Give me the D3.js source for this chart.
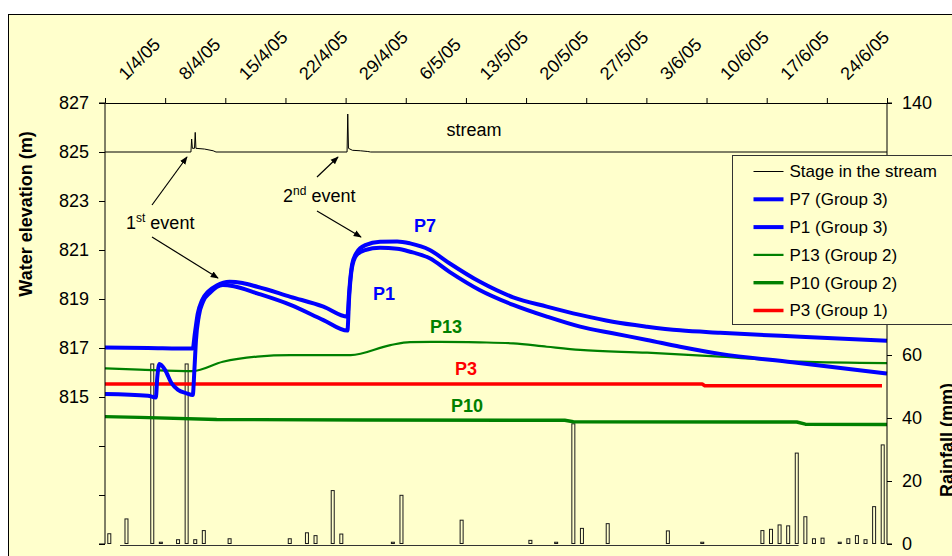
<!DOCTYPE html>
<html><head><meta charset="utf-8">
<script src="https://cdn.jsdelivr.net/npm/d3@7"></script>
<style>
html,body{margin:0;padding:0;background:#fff;}
svg{display:block;font-family:Arial,"Liberation Sans",sans-serif;}
</style></head>
<body>
<svg id="chart" width="952" height="556"></svg>
<script>
// ---------- DATA ----------
const weekTicks = ["2005-04-01","2005-04-08","2005-04-15","2005-04-22","2005-04-29","2005-05-06","2005-05-13","2005-05-20","2005-05-27","2005-06-03","2005-06-10","2005-06-17","2005-06-24"];
const weekLabels = ["1/4/05","8/4/05","15/4/05","22/4/05","29/4/05","6/5/05","13/5/05","20/5/05","27/5/05","3/6/05","10/6/05","17/6/05","24/6/05"];
const elevTicks = [809,811,813,815,817,819,821,823,825,827];
const elevLabels = ["","","","815","817","819","821","823","825","827"];
const rainTicks = [0,20,40,60,80,100,120,140];
// labels 80-120 sit behind the legend box in the original, so they are not shown
const rainLabels = ["0","20","40","60","","","","140"];

const streamTimes = ["2005-04-01 00:00","2005-04-11 00:00","2005-04-11 02:00","2005-04-11 04:00","2005-04-11 10:00","2005-04-11 12:00","2005-04-11 14:00","2005-04-12 14:00","2005-04-13 14:00","2005-04-13 22:00","2005-04-29 04:00","2005-04-29 06:00","2005-04-29 08:00","2005-04-29 19:00","2005-04-30 17:00","2005-05-01 14:00","2005-05-01 22:00","2005-07-01 00:00"];
const streamValues = [825.0,825.0,825.53,825.15,825.15,825.8,825.15,825.12,825.05,825.0,825.0,826.55,825.15,825.07,825.05,825.02,825.0,825.0];

const p7Times = ["2005-04-01 00:00","2005-04-06 00:00","2005-04-11 05:00","2005-04-11 11:00","2005-04-11 19:00","2005-04-12 07:00","2005-04-13 00:00","2005-04-14 00:00","2005-04-15 12:00","2005-04-17 00:00","2005-04-18 17:00","2005-04-22 14:00","2005-04-26 10:00","2005-04-29 05:00","2005-04-29 10:00","2005-04-29 18:00","2005-04-30 07:00","2005-05-01 07:00","2005-05-03 00:00","2005-05-05 00:00","2005-05-06 12:00","2005-05-08 19:00","2005-05-11 02:00","2005-05-14 14:00","2005-05-18 12:00","2005-05-22 10:00","2005-05-26 07:00","2005-05-30 02:00","2005-06-03 02:00","2005-06-06 22:00","2005-06-11 14:00","2005-06-20 22:00","2005-07-01 00:00"];
const p7Values = [817.02,817.0,816.98,817.6,818.4,818.95,819.3,819.55,819.7,819.65,819.5,819.09,818.69,818.28,819.3,820.4,820.9,821.2,821.34,821.35,821.27,821.0,820.46,819.71,819.07,818.69,818.35,818.07,817.87,817.72,817.62,817.46,817.3];

const p1Times = ["2005-04-01 00:00","2005-04-06 00:00","2005-04-06 22:00","2005-04-07 02:00","2005-04-07 08:00","2005-04-08 00:00","2005-04-08 18:00","2005-04-09 12:00","2005-04-10 12:00","2005-04-11 05:00","2005-04-11 10:00","2005-04-11 14:00","2005-04-11 22:00","2005-04-12 10:00","2005-04-13 05:00","2005-04-14 17:00","2005-04-16 00:00","2005-04-18 17:00","2005-04-22 14:00","2005-04-26 10:00","2005-04-29 05:00","2005-04-29 10:00","2005-04-29 18:00","2005-04-30 07:00","2005-05-01 07:00","2005-05-03 00:00","2005-05-05 00:00","2005-05-06 12:00","2005-05-08 19:00","2005-05-11 02:00","2005-05-14 14:00","2005-05-18 12:00","2005-05-22 10:00","2005-05-26 07:00","2005-05-30 02:00","2005-06-03 02:00","2005-06-06 22:00","2005-06-11 14:00","2005-06-20 00:00","2005-07-01 00:00"];
const p1Values = [815.12,815.05,814.98,815.8,816.35,816.1,815.56,815.29,815.15,815.08,816.2,817.3,818.3,818.9,819.25,819.57,819.52,819.23,818.76,818.14,817.71,819.1,820.3,820.8,821.0,821.09,821.05,820.93,820.66,820.11,819.37,818.76,818.28,817.87,817.6,817.33,817.05,816.76,816.42,815.96];

const p13Times = ["2005-04-01 00:00","2005-04-05 00:00","2005-04-11 05:00","2005-04-14 17:00","2005-04-18 17:00","2005-04-22 14:00","2005-04-29 14:00","2005-05-04 05:00","2005-05-06 12:00","2005-05-10 00:00","2005-05-14 14:00","2005-05-18 12:00","2005-05-22 10:00","2005-05-26 07:00","2005-06-03 02:00","2005-06-11 14:00","2005-06-20 22:00","2005-07-01 00:00"];
const p13Values = [816.17,816.12,816.06,816.44,816.65,816.71,816.71,817.12,817.24,817.25,817.23,817.19,817.05,816.92,816.81,816.65,816.44,816.38];

const p10Times = ["2005-04-01 00:00","2005-04-05 00:00","2005-04-14 00:00","2005-05-01 00:00","2005-05-24 12:00","2005-05-25 12:00","2005-06-20 12:00","2005-06-21 12:00","2005-07-01 00:00"];
const p10Values = [814.2,814.17,814.08,814.06,814.05,813.99,813.98,813.89,813.88];

const p3Times = ["2005-04-01 00:00","2005-06-09 12:00","2005-06-09 19:00","2005-06-30 10:00"];
const p3Values = [815.53,815.53,815.46,815.46];

const rainDays = ["2005-04-01","2005-04-03","2005-04-06","2005-04-07","2005-04-09","2005-04-10","2005-04-11","2005-04-12","2005-04-15","2005-04-22","2005-04-24","2005-04-25","2005-04-27","2005-04-28","2005-05-04","2005-05-05","2005-05-12","2005-05-20","2005-05-23","2005-05-25","2005-05-26","2005-05-29","2005-06-05","2005-06-09","2005-06-16","2005-06-17","2005-06-18","2005-06-19","2005-06-20","2005-06-21","2005-06-22","2005-06-23","2005-06-25","2005-06-26","2005-06-27","2005-06-28","2005-06-29","2005-06-30"];
const rainMm = [3.1,7.8,57,0.4,1.2,57,1.2,4.1,1.5,1.5,3.4,2.5,16.8,3.0,0.4,15.3,7.4,1.0,0.4,38,4.8,6.3,4.0,0.4,4.1,4.5,5.9,5.6,28.7,8.5,1.5,1.7,0.4,1.5,2.5,1.2,11.7,31.3];
const rainAxisSpan = ["2005-04-02 18:00","2005-06-20 17:00"];

const seriesNames = ["Stage in the stream","P7 (Group 3)","P1 (Group 3)","P13 (Group 2)","P10 (Group 2)","P3 (Group 1)"];
const seriesColors = ["#000000","#0000FF","#0000FF","#008000","#008000","#FF0000"];
const seriesWidths = [1,4,4,2.2,3.4,3.5];

// ---------- SETUP ----------
const parseT = d3.timeParse("%Y-%m-%d %H:%M");
const parseD = d3.timeParse("%Y-%m-%d");
const svg = d3.select("#chart");
const BG = "#FFFFCC";
const FONT = 'Arial, "Liberation Sans", sans-serif';

const L = 105, R = 887, T = 103, B = 544;
const x = d3.scaleTime().domain([parseD("2005-04-01"), parseD("2005-07-01")]).range([L, R]);
const yL = d3.scaleLinear().domain([809, 827]).range([B, T]);
const yR = d3.scaleLinear().domain([0, 140]).range([B, T]);

// frame
svg.append("rect").attr("x", 8.5).attr("y", 14.5).attr("width", 960).attr("height", 560)
  .attr("fill", BG).attr("stroke", "#000").attr("stroke-width", 1);

// rainfall bars
const rainG = svg.append("g");
rainDays.forEach((d, i) => {
  const t0 = parseD(d);
  const t1 = d3.timeDay.offset(t0, 1);
  const cx = (x(t0) + x(t1)) / 2;
  const h = B - yR(rainMm[i]);
  rainG.append("rect")
    .attr("x", cx - 1.5).attr("y", yR(rainMm[i]) - 0.5)
    .attr("width", 3).attr("height", Math.max(h, 0.6))
    .attr("fill", BG).attr("stroke", "#1a1a1a").attr("stroke-width", 1);
});
svg.append("line")
  .attr("x1", x(parseT(rainAxisSpan[0]))).attr("x2", x(parseT(rainAxisSpan[1])))
  .attr("y1", B + 1.5).attr("y2", B + 1.5).attr("stroke", "#333").attr("stroke-width", 1);

// lines
function drawLine(times, values, color, width, curve) {
  const pts = times.map((t, i) => [parseT(t), values[i]]);
  svg.append("path").datum(pts)
    .attr("fill", "none").attr("stroke", color).attr("stroke-width", width)
    .attr("stroke-linejoin", "round")
    .attr("d", d3.line().x(d => x(d[0])).y(d => yL(d[1])).curve(curve));
}
drawLine(p10Times, p10Values, seriesColors[4], seriesWidths[4], d3.curveLinear);
drawLine(p3Times, p3Values, seriesColors[5], seriesWidths[5], d3.curveLinear);
drawLine(p13Times, p13Values, seriesColors[3], seriesWidths[3], d3.curveMonotoneX);
drawLine(p1Times, p1Values, seriesColors[2], seriesWidths[2], d3.curveMonotoneX);
drawLine(p7Times, p7Values, seriesColors[1], seriesWidths[1], d3.curveMonotoneX);
drawLine(streamTimes, streamValues, seriesColors[0], seriesWidths[0], d3.curveLinear);

// axes
const topAxis = d3.axisTop(x).tickValues(weekTicks.map(parseD)).tickSize(5).tickFormat("");
const gTop = svg.append("g").attr("transform", `translate(0,${T})`).call(topAxis);
gTop.select(".domain").attr("stroke", "#000");
gTop.selectAll(".tick line").attr("stroke", "#000");
svg.append("g").selectAll("text").data(weekTicks).join("text")
  .attr("transform", (d) => `translate(${x(parseD(d)) + 21},81) rotate(-45)`)
  .attr("font-size", 18).attr("font-family", FONT).attr("fill", "#000")
  .text((d, i) => weekLabels[i]);

const leftAxis = d3.axisLeft(yL).tickValues(elevTicks).tickSize(6).tickPadding(10)
  .tickFormat((d, i) => elevLabels[i]);
const gL = svg.append("g").attr("transform", `translate(${L},0)`).call(leftAxis);
gL.selectAll("text").attr("font-size", 18).attr("font-family", FONT).attr("fill", "#000");
gL.select(".domain").attr("d", `M-6,${B}H0V${T}H-6`).attr("stroke", "#000");

const rightAxis = d3.axisRight(yR).tickValues(rainTicks).tickSize(5).tickPadding(10)
  .tickFormat((d, i) => rainLabels[i]);
const gR = svg.append("g").attr("transform", `translate(${R},0)`).call(rightAxis);
gR.selectAll("text").attr("font-size", 18).attr("font-family", FONT).attr("fill", "#000");
gR.select(".domain").attr("d", `M5,${B}H0V${T}H5`).attr("stroke", "#000");

// axis titles
svg.append("text").attr("transform", "translate(32,214) rotate(-90)")
  .attr("text-anchor", "middle").attr("font-size", 18).attr("font-weight", "bold")
  .attr("font-family", FONT).text("Water elevation (m)");
svg.append("text").attr("transform", "translate(953,440) rotate(-90)")
  .attr("text-anchor", "middle").attr("font-size", 18).attr("font-weight", "bold")
  .attr("font-family", FONT).text("Rainfall (mm)");

// annotations
const ann = svg.append("g").attr("font-family", FONT).attr("font-size", 18);
ann.append("text").attr("x", 474).attr("y", 136).attr("text-anchor", "middle").text("stream");
const t1 = ann.append("text").attr("x", 126).attr("y", 229);
t1.append("tspan").text("1");
t1.append("tspan").attr("font-size", 12).attr("dy", -7).text("st");
t1.append("tspan").attr("dy", 7).text(" event");
const t2 = ann.append("text").attr("x", 283).attr("y", 202);
t2.append("tspan").text("2");
t2.append("tspan").attr("font-size", 12).attr("dy", -7).text("nd");
t2.append("tspan").attr("dy", 7).text(" event");

svg.append("defs").append("marker").attr("id", "ah").attr("viewBox", "0 0 10 10")
  .attr("refX", 9).attr("refY", 5).attr("markerWidth", 8).attr("markerHeight", 8)
  .attr("markerUnits", "userSpaceOnUse").attr("orient", "auto")
  .append("path").attr("d", "M0,1 L10,5 L0,9 Z").attr("fill", "#000");
const arrows = [[152,205,187,157],[152,237,218,278],[317,177,338,157],[317,211,361,237]];
svg.append("g").selectAll("line").data(arrows).join("line")
  .attr("x1", d => d[0]).attr("y1", d => d[1]).attr("x2", d => d[2]).attr("y2", d => d[3])
  .attr("stroke", "#000").attr("stroke-width", 1.2).attr("marker-end", "url(#ah)");

// series labels
const lab = svg.append("g").attr("font-family", FONT).attr("font-size", 18).attr("font-weight", "bold").attr("text-anchor", "middle");
[["P7",425,232,"#0000FF"],["P1",384,300,"#0000FF"],["P13",446,333,"#008000"],["P3",466,375,"#FF0000"],["P10",467,412,"#008000"]]
  .forEach(d => lab.append("text").attr("x", d[1]).attr("y", d[2]).attr("fill", d[3]).text(d[0]));

// legend
const lg = svg.append("g").attr("transform", "translate(732.5,155.5)");
lg.append("rect").attr("width", 240).attr("height", 169).attr("fill", BG).attr("stroke", "#333").attr("stroke-width", 1);
seriesNames.forEach((n, i) => {
  const yy = 16 + i * 27.8;
  lg.append("line").attr("x1", 21).attr("x2", 51).attr("y1", yy).attr("y2", yy)
    .attr("stroke", seriesColors[i]).attr("stroke-width", seriesWidths[i]);
  lg.append("text").attr("x", 57).attr("y", yy).attr("dy", "0.35em")
    .attr("font-family", FONT).attr("font-size", 17).text(n);
});
</script>
</body></html>
